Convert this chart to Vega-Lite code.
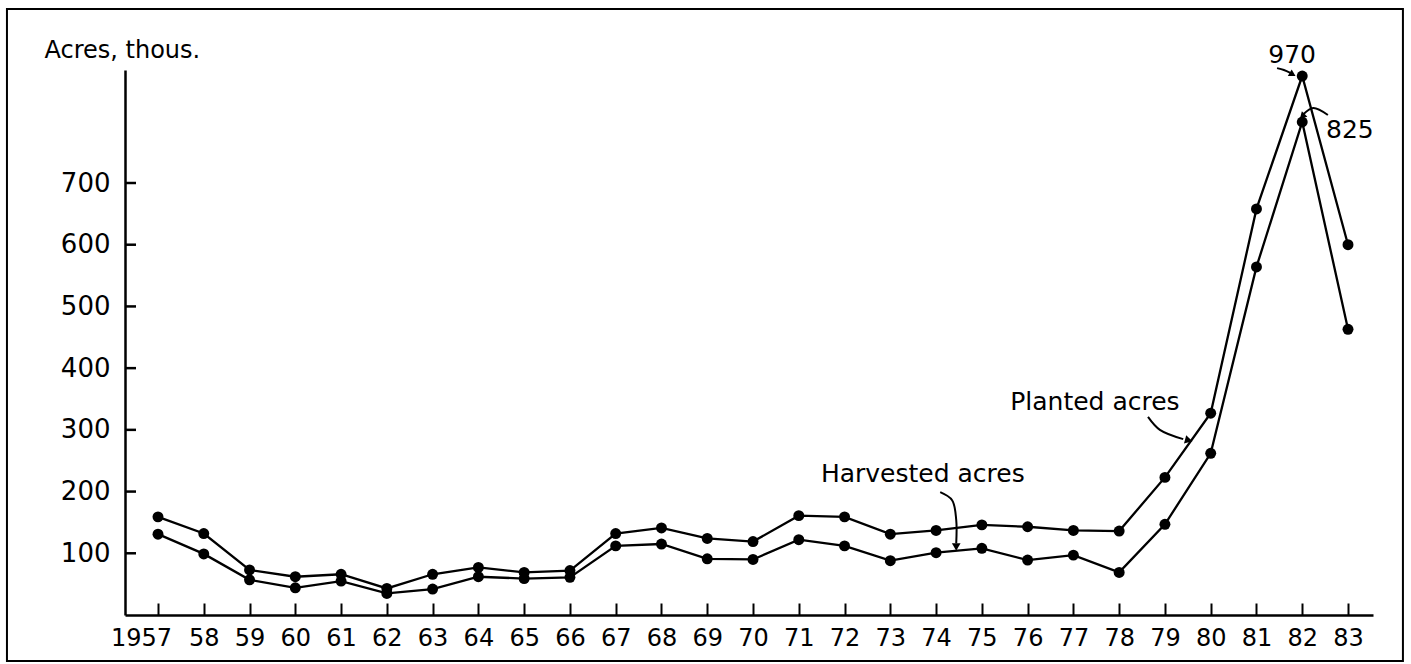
{
  "$schema": "https://vega.github.io/schema/vega-lite/v6.json",
  "width": 1248,
  "height": 545,
  "autosize": {"type": "none"},
  "padding": {"left": 125, "top": 70, "right": 38, "bottom": 49},
  "background": "white",
  "config": {
    "view": {"stroke": null},
    "font": "DejaVu Sans",
    "axis": {
      "grid": false,
      "domainColor": "black",
      "domainWidth": 2.5,
      "tickColor": "black",
      "tickWidth": 2,
      "labelColor": "black",
      "labelFont": "DejaVu Sans",
      "titleFont": "DejaVu Sans",
      "titleColor": "black"
    }
  },
  "datasets": {
    "acres": [
      {"year": 1957, "series": "Planted", "value": 159}, {"year": 1957, "series": "Harvested", "value": 131},
      {"year": 1958, "series": "Planted", "value": 132}, {"year": 1958, "series": "Harvested", "value": 99},
      {"year": 1959, "series": "Planted", "value": 73}, {"year": 1959, "series": "Harvested", "value": 57},
      {"year": 1960, "series": "Planted", "value": 62}, {"year": 1960, "series": "Harvested", "value": 44},
      {"year": 1961, "series": "Planted", "value": 66}, {"year": 1961, "series": "Harvested", "value": 55},
      {"year": 1962, "series": "Planted", "value": 43}, {"year": 1962, "series": "Harvested", "value": 35},
      {"year": 1963, "series": "Planted", "value": 66}, {"year": 1963, "series": "Harvested", "value": 42},
      {"year": 1964, "series": "Planted", "value": 77}, {"year": 1964, "series": "Harvested", "value": 62},
      {"year": 1965, "series": "Planted", "value": 69}, {"year": 1965, "series": "Harvested", "value": 59},
      {"year": 1966, "series": "Planted", "value": 72}, {"year": 1966, "series": "Harvested", "value": 61},
      {"year": 1967, "series": "Planted", "value": 132}, {"year": 1967, "series": "Harvested", "value": 112},
      {"year": 1968, "series": "Planted", "value": 141}, {"year": 1968, "series": "Harvested", "value": 115},
      {"year": 1969, "series": "Planted", "value": 124}, {"year": 1969, "series": "Harvested", "value": 91},
      {"year": 1970, "series": "Planted", "value": 119}, {"year": 1970, "series": "Harvested", "value": 90},
      {"year": 1971, "series": "Planted", "value": 161}, {"year": 1971, "series": "Harvested", "value": 122},
      {"year": 1972, "series": "Planted", "value": 159}, {"year": 1972, "series": "Harvested", "value": 112},
      {"year": 1973, "series": "Planted", "value": 131}, {"year": 1973, "series": "Harvested", "value": 88},
      {"year": 1974, "series": "Planted", "value": 137}, {"year": 1974, "series": "Harvested", "value": 101},
      {"year": 1975, "series": "Planted", "value": 146}, {"year": 1975, "series": "Harvested", "value": 108},
      {"year": 1976, "series": "Planted", "value": 143}, {"year": 1976, "series": "Harvested", "value": 89},
      {"year": 1977, "series": "Planted", "value": 137}, {"year": 1977, "series": "Harvested", "value": 97},
      {"year": 1978, "series": "Planted", "value": 136}, {"year": 1978, "series": "Harvested", "value": 69},
      {"year": 1979, "series": "Planted", "value": 223}, {"year": 1979, "series": "Harvested", "value": 147},
      {"year": 1980, "series": "Planted", "value": 327}, {"year": 1980, "series": "Harvested", "value": 262},
      {"year": 1981, "series": "Planted", "value": 658}, {"year": 1981, "series": "Harvested", "value": 564},
      {"year": 1982, "series": "Planted", "value": 970}, {"year": 1982, "series": "Harvested", "value": 825},
      {"year": 1983, "series": "Planted", "value": 600}, {"year": 1983, "series": "Harvested", "value": 463}
    ],
    "yticks": [{"v": 100}, {"v": 200}, {"v": 300}, {"v": 400}, {"v": 500}, {"v": 600}, {"v": 700}],
    "notes": [
      {"label": "970", "year": 1981.78, "value": 1036},
      {"label": "825", "year": 1983.04, "value": 809},
      {"label": "Planted acres", "year": 1977.47, "value": 345},
      {"label": "Harvested acres", "year": 1973.71, "value": 228}
    ],
    "arrows": [
      {"arrow": "h", "i": 0, "year": 1974.09, "value": 199},
      {"arrow": "h", "i": 1, "year": 1974.35, "value": 186},
      {"arrow": "h", "i": 2, "year": 1974.44, "value": 154},
      {"arrow": "h", "i": 3, "year": 1974.44, "value": 116},
      {"arrow": "p", "i": 0, "year": 1978.63, "value": 321},
      {"arrow": "p", "i": 1, "year": 1978.89, "value": 300},
      {"arrow": "p", "i": 2, "year": 1979.40, "value": 285},
      {"arrow": "t", "i": 0, "year": 1981.45, "value": 995},
      {"arrow": "t", "i": 1, "year": 1981.60, "value": 989},
      {"arrow": "t", "i": 2, "year": 1981.74, "value": 980},
      {"arrow": "e", "i": 0, "year": 1982.56, "value": 847},
      {"arrow": "e", "i": 1, "year": 1982.24, "value": 869},
      {"arrow": "e", "i": 2, "year": 1982.03, "value": 850}
    ]
  },
  "layer": [
    {
      "data": {"values": [{}]},
      "mark": {"type": "rect", "fill": null, "stroke": "black", "strokeWidth": 2, "clip": false},
      "encoding": {
        "x": {"datum": 1953.70, "type": "quantitative", "scale": {"domain": [1956.279, 1983.546], "nice": false, "zero": false}},
        "x2": {"datum": 1984.20},
        "y": {"datum": 1181.5, "type": "quantitative", "scale": {"domain": [0, 700, 825, 989], "range": [545, 113, 52, 0], "nice": false, "zero": false}},
        "y2": {"datum": -74.6}
      }
    },
    {
      "data": {"name": "acres"},
      "mark": {"type": "line", "color": "black", "strokeWidth": 2.3},
      "encoding": {
        "x": {
          "field": "year", "type": "quantitative",
          "scale": {"domain": [1956.279, 1983.546], "nice": false, "zero": false},
          "axis": {
            "title": null,
            "values": [1957,1958,1959,1960,1961,1962,1963,1964,1965,1966,1967,1968,1969,1970,1971,1972,1973,1974,1975,1976,1977,1978,1979,1980,1981,1982,1983],
            "labelExpr": "datum.value == 1957 ? '1957' : substring(toString(datum.value), 2)",
            "labelOffset": {"condition": {"test": "datum.value == 1957", "value": -17}, "value": 0},
            "tickSize": -12,
            "labelPadding": 23,
            "labelFontSize": 24,
            "labelFlush": false,
            "labelOverlap": false
          }
        },
        "y": {
          "field": "value", "type": "quantitative",
          "scale": {"domain": [0, 700, 825, 989], "range": [545, 113, 52, 0], "nice": false, "zero": false},
          "axis": {
            "values": [100, 200, 300, 400, 500, 600, 700],
            "ticks": false,
            "labelPadding": 15,
            "labelFontSize": 26,
            "labelOverlap": false,
            "labelFlush": false,
            "title": "Acres, thous.",
            "titleAngle": 0,
            "titleX": -81,
            "titleY": -13,
            "titleAlign": "left",
            "titleBaseline": "alphabetic",
            "titleFontSize": 24,
            "titleFontWeight": "normal"
          }
        },
        "detail": {"field": "series"}
      }
    },
    {
      "data": {"name": "yticks"},
      "mark": {"type": "rule", "color": "black", "strokeWidth": 2.5, "opacity": 1},
      "encoding": {
        "x": {"datum": 1956.279},
        "x2": {"datum": 1956.52},
        "y": {"field": "v", "type": "quantitative"}
      }
    },
    {
      "data": {"name": "acres"},
      "mark": {"type": "point", "filled": true, "color": "black", "size": 120, "opacity": 1},
      "encoding": {
        "x": {"field": "year", "type": "quantitative"},
        "y": {"field": "value", "type": "quantitative"}
      }
    },
    {
      "data": {"name": "notes"},
      "mark": {"type": "text", "fontSize": 25, "color": "black", "align": "center", "baseline": "middle"},
      "encoding": {
        "x": {"field": "year", "type": "quantitative"},
        "y": {"field": "value", "type": "quantitative"},
        "text": {"field": "label"}
      }
    },
    {
      "data": {"name": "arrows"},
      "mark": {"type": "line", "color": "black", "strokeWidth": 2, "interpolate": "catmull-rom"},
      "encoding": {
        "x": {"field": "year", "type": "quantitative"},
        "y": {"field": "value", "type": "quantitative"},
        "detail": {"field": "arrow"},
        "order": {"field": "i"}
      }
    },
    {
      "data": {"values": [{}]},
      "mark": {"type": "point", "shape": "triangle-up", "filled": true, "color": "black", "size": 75, "angle": 180, "opacity": 1},
      "encoding": {"x": {"datum": 1974.44}, "y": {"datum": 110}}
    },
    {
      "data": {"values": [{}]},
      "mark": {"type": "point", "shape": "triangle-up", "filled": true, "color": "black", "size": 75, "angle": 105, "opacity": 1},
      "encoding": {"x": {"datum": 1979.52}, "y": {"datum": 283}}
    },
    {
      "data": {"values": [{}]},
      "mark": {"type": "point", "shape": "triangle-up", "filled": true, "color": "black", "size": 60, "angle": 120, "opacity": 1},
      "encoding": {"x": {"datum": 1981.79}, "y": {"datum": 975}}
    },
    {
      "data": {"values": [{}]},
      "mark": {"type": "point", "shape": "triangle-up", "filled": true, "color": "black", "size": 60, "angle": 225, "opacity": 1},
      "encoding": {"x": {"datum": 1982.0}, "y": {"datum": 843}}
    }
  ]
}
